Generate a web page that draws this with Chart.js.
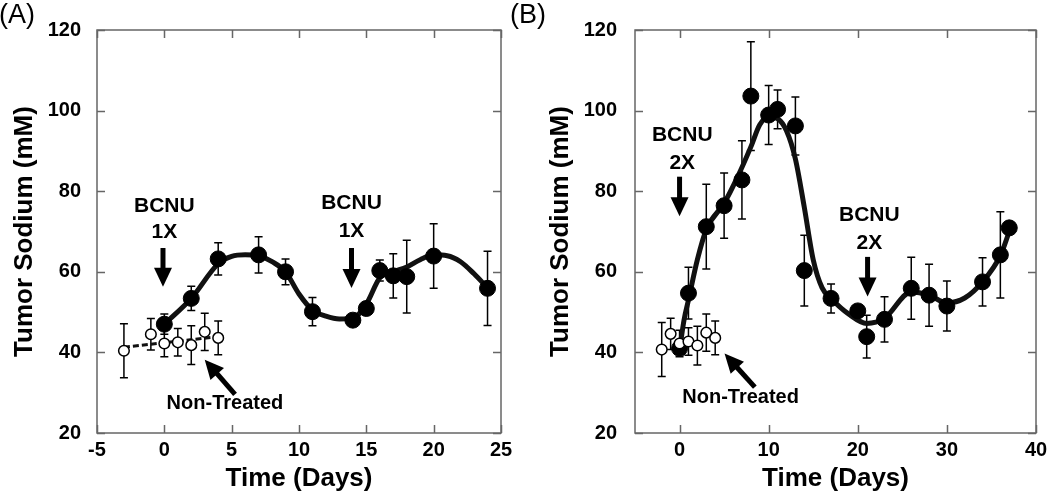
<!DOCTYPE html>
<html>
<head>
<meta charset="utf-8">
<script src="https://cdn.jsdelivr.net/npm/chart.js@4.4.1/dist/chart.umd.min.js"></script>
<style>
  body { margin: 0; background: #fff; }
  #wrap { position: relative; width: 1050px; height: 494px; overflow: hidden; }
  .panel { position: absolute; top: 0; height: 494px; }
  #panelA { left: 0; width: 525px; }
  #panelB { left: 505px; width: 545px; }
</style>
</head>
<body>
<div id="wrap">
  <div class="panel" id="panelA"><canvas id="chartA" width="525" height="494"></canvas></div>
  <div class="panel" id="panelB"><canvas id="chartB" width="545" height="494"></canvas></div>
</div>
<script>
// ---- Panel A values ----
const daysTreatedA   = [0, 2, 4, 7, 9, 11, 14, 15, 16, 17, 18, 20, 24];
const sodiumTreatedA = [47.0, 53.4, 63.2, 64.2, 60.0, 50.1, 48.0, 50.9, 60.3, 59.0, 58.8, 63.9, 55.9];
const errTreatedA    = [2.5, 3.0, 4.0, 4.5, 3.2, 3.5, 1.0, 1.0, 2.6, 5.5, 9.0, 8.0, 9.2];

const daysControlA   = [-3, -1, 0, 1, 2, 3, 4];
const sodiumControlA = [40.4, 44.5, 42.2, 42.5, 41.8, 45.1, 43.6];
const errControlA    = [6.7, 3.9, 3.3, 3.4, 4.8, 4.6, 4.2];

const fitDaysA   = [-3, 4];
const fitSodiumA = [41.3, 43.9];

const curveDaysA   = [0, 2, 4, 5, 6, 7, 8, 9, 10, 11, 12, 13, 14, 15, 16, 17, 18, 19, 20, 21, 22, 23, 24];
const curveSodiumA = [47, 53.4, 62, 63.8, 64.2, 64, 62.5, 60, 54.5, 50.5, 49, 48.3, 48.5, 52, 58.5, 60, 61.2, 63, 64.2, 64, 62.5, 59.5, 56];

const xTicksA = [-5, 0, 5, 10, 15, 20, 25];

// ---- Panel B values ----
const daysTreatedB   = [0, 1, 3, 5, 7, 8, 10, 11, 13, 14, 17, 20, 21, 23, 26, 28, 30, 34, 36, 37];
const sodiumTreatedB = [41.0, 54.7, 71.2, 76.4, 82.8, 103.6, 98.9, 100.3, 96.2, 60.3, 53.4, 50.3, 43.9, 48.2, 55.9, 54.2, 51.5, 57.5, 64.2, 70.9];
const errTreatedB    = [1.5, 6.4, 10.5, 8.1, 9.7, 13.5, 7.3, 4.8, 7.2, 8.8, 3.6, 1.5, 5.3, 5.6, 7.7, 7.7, 6.2, 6.0, 10.7, 1.0];

const daysControlB   = [-2, -1, 0, 1, 2, 3, 4];
const sodiumControlB = [40.7, 44.6, 42.2, 42.7, 41.7, 44.9, 43.6];
const errControlB    = [6.7, 3.9, 3.3, 3.4, 4.8, 4.6, 4.2];

const curveDaysB   = [0, 0.5, 1, 2, 3, 5, 6.5, 8, 9, 10, 11, 12, 13, 14, 15, 16, 17, 19, 21, 23, 26, 28, 30, 32, 34, 36, 37];
const curveSodiumB = [40.5, 48, 53, 63, 70.5, 77, 83.5, 91, 96.5, 98.5, 98, 95, 88, 76, 63, 56, 53.4, 49.5, 47.2, 48.5, 55, 54.2, 52.3, 53.5, 57.5, 64, 70];

const xTicksB = [0, 10, 20, 30, 40];

const yTicks = [20, 40, 60, 80, 100, 120];

const FONT = '"Liberation Sans", Arial, Helvetica, sans-serif';

// annotations, placed in data coordinates
const notes = {
  chartA: {
    panel: '(A)',
    texts: [
      { x: 0, y: 76.3, text: 'BCNU' }, { x: 0, y: 69.8, text: '1X' },
      { x: 13.9, y: 76.9, text: 'BCNU' }, { x: 13.9, y: 70.0, text: '1X' },
      { x: 4.5, y: 27.4, text: 'Non-Treated', size: 20 }
    ],
    arrows: [
      { x1: -0.1, y1: 65.9, x2: -0.1, y2: 56.3 },
      { x1: 13.9, y1: 65.9, x2: 13.9, y2: 56.0 },
      { x1: 5.25, y1: 29.6, x2: 3.0, y2: 38.2 }
    ]
  },
  chartB: {
    panel: '(B)',
    texts: [
      { x: 0.3, y: 93.9, text: 'BCNU' }, { x: 0.3, y: 87.0, text: '2X' },
      { x: 21.3, y: 74.1, text: 'BCNU' }, { x: 21.3, y: 67.1, text: '2X' },
      { x: 6.85, y: 28.9, text: 'Non-Treated', size: 20 }
    ],
    arrows: [
      { x1: 0, y1: 83.6, x2: 0, y2: 73.8 },
      { x1: 21.1, y1: 63.7, x2: 21.1, y2: 53.9 },
      { x1: 8.45, y1: 31.4, x2: 5.05, y2: 39.7 }
    ]
  }
};

const toPoints = (xs, ys) => xs.map((x, i) => ({ x: x, y: ys[i] }));

// Box around the plot with inward tick marks on all four sides.
const frameTicks = {
  id: 'frameTicks',
  afterDraw(chart) {
    const { ctx, chartArea: a, scales: { x, y } } = chart;
    ctx.save();
    ctx.strokeStyle = '#666';
    ctx.lineWidth = 1.5;
    ctx.strokeRect(a.left, a.top, a.right - a.left, a.bottom - a.top);
    ctx.beginPath();
    x.ticks.forEach(t => {
      const px = Math.round(x.getPixelForValue(t.value)) + 0.5;
      ctx.moveTo(px, a.bottom); ctx.lineTo(px, a.bottom - 8);
      ctx.moveTo(px, a.top); ctx.lineTo(px, a.top + 8);
    });
    y.ticks.forEach(t => {
      const py = Math.round(y.getPixelForValue(t.value)) + 0.5;
      ctx.moveTo(a.left, py); ctx.lineTo(a.left + 8, py);
      ctx.moveTo(a.right, py); ctx.lineTo(a.right - 8, py);
    });
    ctx.stroke();
    ctx.restore();
  }
};

// Vertical error bars with caps, drawn behind the markers.
const errorBars = {
  id: 'errorBars',
  beforeDatasetsDraw(chart) {
    const { ctx, scales: { x, y } } = chart;
    ctx.save();
    ctx.strokeStyle = '#000';
    ctx.lineWidth = 1.5;
    chart.data.datasets.forEach(ds => {
      if (!ds.errors) return;
      ds.data.forEach((p, i) => {
        const e = ds.errors[i];
        const px = x.getPixelForValue(p.x);
        const top = y.getPixelForValue(p.y + e);
        const bot = y.getPixelForValue(p.y - e);
        ctx.beginPath();
        ctx.moveTo(px, top); ctx.lineTo(px, bot);
        ctx.moveTo(px - 4, top); ctx.lineTo(px + 4, top);
        ctx.moveTo(px - 4, bot); ctx.lineTo(px + 4, bot);
        ctx.stroke();
      });
    });
    ctx.restore();
  }
};

function drawArrow(ctx, x1, y1, x2, y2) {
  const len = Math.hypot(x2 - x1, y2 - y1);
  const ux = (x2 - x1) / len, uy = (y2 - y1) / len;
  const head = 19, half = 9;
  const bx = x2 - ux * head, by = y2 - uy * head;
  ctx.beginPath();
  ctx.lineWidth = 5;
  ctx.moveTo(x1, y1);
  ctx.lineTo(bx + ux, by + uy);
  ctx.stroke();
  ctx.beginPath();
  ctx.moveTo(x2, y2);
  ctx.lineTo(bx - uy * half, by + ux * half);
  ctx.lineTo(bx + uy * half, by - ux * half);
  ctx.closePath();
  ctx.fill();
}

// Text labels, arrows and panel letter.
const annotations = {
  id: 'annotations',
  afterDraw(chart) {
    const n = notes[chart.canvas.id];
    if (!n) return;
    const { ctx, scales: { x, y } } = chart;
    ctx.save();
    ctx.fillStyle = '#000';
    ctx.strokeStyle = '#000';
    ctx.textAlign = 'center';
    ctx.textBaseline = 'middle';
    n.texts.forEach(t => {
      ctx.font = 'bold ' + (t.size || 21) + 'px ' + FONT;
      ctx.fillText(t.text, x.getPixelForValue(t.x), y.getPixelForValue(t.y));
    });
    n.arrows.forEach(a => {
      drawArrow(ctx, x.getPixelForValue(a.x1), y.getPixelForValue(a.y1),
                     x.getPixelForValue(a.x2), y.getPixelForValue(a.y2));
    });
    ctx.font = '27px ' + FONT;
    ctx.textAlign = 'left';
    ctx.fillText(n.panel, chart.canvas.id === 'chartA' ? -1 : 5, 16);
    ctx.restore();
  }
};

function markerSets(treatedPts, treatedErr, controlPts, controlErr) {
  return [
    {
      label: 'Non-Treated', data: controlPts, errors: controlErr, order: 0,
      showLine: false, pointRadius: 5.3, pointHoverRadius: 5.3,
      pointBackgroundColor: '#fff', pointBorderColor: '#000', pointBorderWidth: 1.5
    },
    {
      label: 'BCNU', data: treatedPts, errors: treatedErr, order: 1,
      showLine: false, pointRadius: 8, pointHoverRadius: 8,
      pointBackgroundColor: '#000', pointBorderColor: '#000', pointBorderWidth: 1
    }
  ];
}

function makeChart(id, datasets, xMin, xMax, xTicks, layout) {
  const tickFont = { family: FONT, size: 20, weight: 'bold' };
  const titleFont = { family: FONT, size: 26, weight: 'bold' };
  return new Chart(document.getElementById(id), {
    type: 'scatter',
    data: { datasets: datasets },
    options: {
      responsive: false,
      animation: false,
      layout: { padding: { top: 30, right: layout.padRight, bottom: 0, left: 0 } },
      plugins: { legend: { display: false }, tooltip: { enabled: false } },
      scales: {
        x: {
          type: 'linear', min: xMin, max: xMax,
          afterBuildTicks: s => { s.ticks = xTicks.map(v => ({ value: v })); },
          afterFit: s => { s.height = 61; },
          grid: { display: false }, border: { display: false },
          ticks: { font: tickFont, color: '#000', padding: -3, maxRotation: 0, autoSkip: false },
          title: { display: true, text: 'Time (Days)', font: titleFont, color: '#000', padding: { top: 0, bottom: 0 } }
        },
        y: {
          type: 'linear', min: 20, max: 120,
          afterBuildTicks: s => { s.ticks = yTicks.map(v => ({ value: v })); },
          afterFit: s => { s.width = layout.yWidth; },
          grid: { display: false }, border: { display: false },
          ticks: { font: tickFont, color: '#000', padding: layout.yPad, autoSkip: false },
          title: { display: true, text: 'Tumor Sodium (mM)', font: titleFont, color: '#000', padding: { top: layout.titlePad, bottom: 0 } }
        }
      }
    },
    plugins: [errorBars, frameTicks, annotations]
  });
}

const setA = markerSets(toPoints(daysTreatedA, sodiumTreatedA), errTreatedA,
                        toPoints(daysControlA, sodiumControlA), errControlA);
setA.push({
  label: 'fit A', data: toPoints(curveDaysA, curveSodiumA), order: 2,
  showLine: true, pointRadius: 0, borderColor: '#111', borderWidth: 5,
  cubicInterpolationMode: 'monotone'
});
setA.push({
  label: 'control trend', data: toPoints(fitDaysA, fitSodiumA), order: 3,
  showLine: true, pointRadius: 0, borderColor: '#111', borderWidth: 3, borderDash: [6, 3]
});
makeChart('chartA', setA, -5, 25, xTicksA, { padRight: 24, yWidth: 97, yPad: 8, titlePad: 9 });

const setB = markerSets(toPoints(daysTreatedB, sodiumTreatedB), errTreatedB,
                        toPoints(daysControlB, sodiumControlB), errControlB);
setB.push({
  label: 'fit B', data: toPoints(curveDaysB, curveSodiumB), order: 2,
  showLine: true, pointRadius: 0, borderColor: '#111', borderWidth: 5,
  cubicInterpolationMode: 'monotone'
});
makeChart('chartB', setB, -5, 40, xTicksB, { padRight: 14, yWidth: 130, yPad: 10, titlePad: 40 });
</script>
</body>
</html>
